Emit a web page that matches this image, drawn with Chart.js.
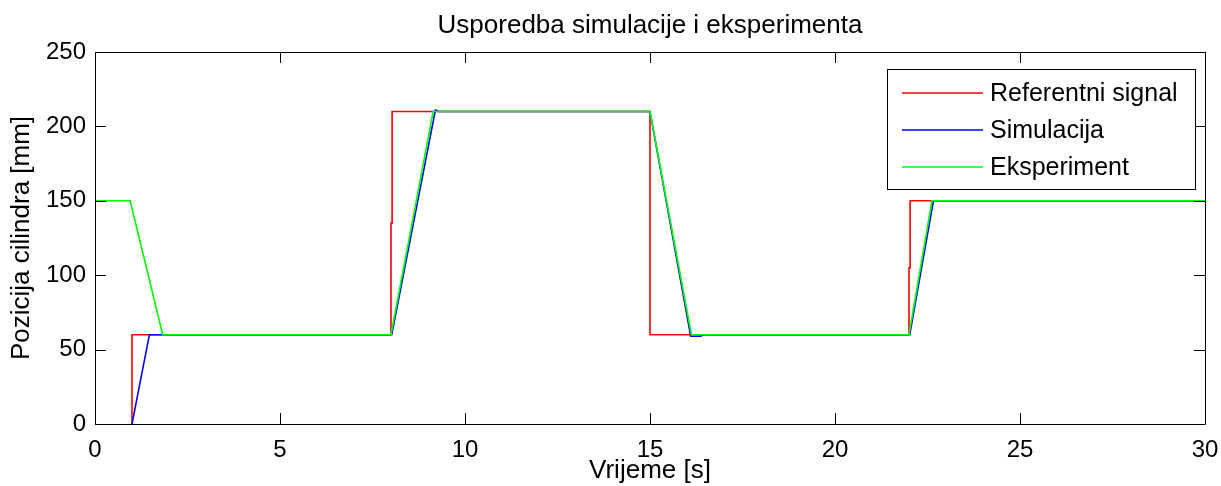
<!DOCTYPE html>
<html>
<head>
<meta charset="utf-8">
<script src="https://cdn.jsdelivr.net/npm/chart.js@4"></script>
<style>
  html, body { margin: 0; padding: 0; background: #fff; }
  #wrap { width: 1221px; height: 486px; }
</style>
</head>
<body>
<div id="wrap"><canvas id="chart" width="1221" height="486"></canvas></div>
<script>
// data
const refT = [1.0, 1.0, 8.0, 8.0, 8.03, 8.03, 15.0, 15.0, 22.0, 22.0, 22.03, 22.03, 30];
const refY = [0, 60, 60, 135, 135, 210, 210, 60, 60, 105, 105, 150, 150];

const simT = [1.0, 1.47, 8.02, 9.2, 9.3, 15.0, 16.1, 16.37, 16.45, 22.02, 22.66, 30];
const simY = [0, 60, 60, 211, 210, 210, 59, 59, 60, 60, 150, 150];

const expT = [0, 0.95, 1.83, 8.0, 9.14, 15.0, 16.12, 22.0, 22.62, 30];
const expY = [150, 150, 60, 60, 210, 210, 60, 60, 150, 150];

const labels = ["Referentni signal", "Simulacija", "Eksperiment"];
const colors = ["#ff0000", "#0000ff", "#00ff00"];

const xTicks = [0, 5, 10, 15, 20, 25, 30];
const yTicks = [0, 50, 100, 150, 200, 250];

const title = "Usporedba simulacije i eksperimenta";
const xTitle = "Vrijeme [s]";
const yTitle = "Pozicija cilindra [mm]";

const FONT = "'Liberation Sans', Arial, sans-serif";

function pts(t, y) {
  return t.map((v, i) => ({ x: v, y: y[i] }));
}

// box, inward ticks, title and legend like the matlab figure
const matlabLook = {
  id: "matlabLook",
  afterDatasetsDraw(chart) {
    const ctx = chart.ctx;
    const a = chart.chartArea;
    const xs = chart.scales.x, ys = chart.scales.y;
    const tl = 11;
    ctx.save();
    ctx.strokeStyle = "#000";
    ctx.lineWidth = 1;
    ctx.beginPath();
    ctx.rect(Math.round(a.left) + 0.5, Math.round(a.top) + 0.5, Math.round(a.right - a.left), Math.round(a.bottom - a.top));
    xTicks.forEach(v => {
      const px = Math.round(xs.getPixelForValue(v)) + 0.5;
      ctx.moveTo(px, a.bottom); ctx.lineTo(px, a.bottom - tl);
      ctx.moveTo(px, a.top); ctx.lineTo(px, a.top + tl);
    });
    yTicks.forEach(v => {
      const py = Math.round(ys.getPixelForValue(v)) + 0.5;
      ctx.moveTo(a.left, py); ctx.lineTo(a.left + tl, py);
      ctx.moveTo(a.right, py); ctx.lineTo(a.right - tl, py);
    });
    ctx.stroke();

    // title
    ctx.fillStyle = "#000";
    ctx.font = "26px " + FONT;
    ctx.textAlign = "center";
    ctx.textBaseline = "middle";
    ctx.fillText(title, (a.left + a.right) / 2, 26);

    // legend
    const bx = 887, by = 69, bw = 308, bh = 120;
    ctx.fillStyle = "#fff";
    ctx.fillRect(bx, by, bw, bh);
    ctx.strokeRect(bx + 0.5, by + 0.5, bw, bh);
    ctx.font = "25px " + FONT;
    ctx.textAlign = "left";
    const rows = [93, 130, 167];
    labels.forEach((l, i) => {
      ctx.strokeStyle = colors[i];
      ctx.lineWidth = 1.5;
      ctx.beginPath();
      ctx.moveTo(902, rows[i]); ctx.lineTo(983, rows[i]);
      ctx.stroke();
      ctx.fillStyle = "#000";
      ctx.fillText(l, 990, rows[i] + 1);
    });
    ctx.restore();
  }
};

const series = [
  { t: refT, y: refY, order: 2 },
  { t: simT, y: simY, order: 1 },
  { t: expT, y: expY, order: 0 }
];

new Chart(document.getElementById("chart"), {
  type: "line",
  data: {
    datasets: series.map((s, i) => ({
      label: labels[i],
      data: pts(s.t, s.y),
      borderColor: colors[i],
      backgroundColor: colors[i],
      borderWidth: 1.6,
      pointRadius: 0,
      tension: 0,
      fill: false,
      order: s.order
    }))
  },
  options: {
    responsive: false,
    animation: false,
    layout: { padding: { top: 52, right: 16, left: 0, bottom: 0 } },
    plugins: {
      legend: { display: false },
      title: { display: false },
      tooltip: { enabled: false }
    },
    scales: {
      x: {
        type: "linear",
        min: 0, max: 30,
        afterBuildTicks: s => { s.ticks = xTicks.map(v => ({ value: v })); },
        afterFit: s => { s.height = 62; s.paddingLeft = 0; s.paddingRight = 0; },
        grid: { display: false },
        border: { display: false },
        ticks: { color: "#000", padding: 4, maxRotation: 0, font: { family: FONT, size: 24 } },
        title: { display: true, text: xTitle, color: "#000", padding: { top: -6, bottom: 0 }, font: { family: FONT, size: 26 } }
      },
      y: {
        min: 0, max: 250,
        afterBuildTicks: s => { s.ticks = yTicks.map(v => ({ value: v })); },
        afterFit: s => { s.width = 95; s.paddingTop = 0; s.paddingBottom = 0; },
        grid: { display: false },
        border: { display: false },
        ticks: { color: "#000", padding: 1, font: { family: FONT, size: 24 } },
        title: { display: true, text: yTitle, color: "#000", padding: { top: 6, bottom: 0 }, font: { family: FONT, size: 26 } }
      }
    }
  },
  plugins: [matlabLook]
});
</script>
</body>
</html>
